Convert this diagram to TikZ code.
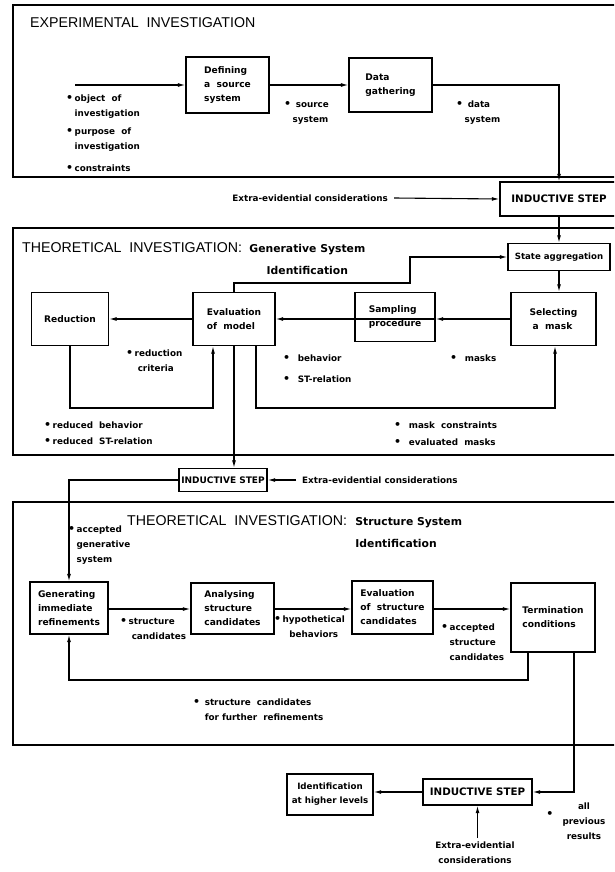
\documentclass[tikz,border=0pt]{standalone}
\usepackage{fontspec}
\setmainfont{Liberation Sans}
\newfontfamily\dvs{DejaVu Sans}
\usetikzlibrary{arrows.meta,calc}

\newcommand\ttlfont{\fontsize{14.2}{17}\selectfont}
\newcommand\subfont{\dvs\fontsize{10.8}{22}\selectfont\bfseries}
\newcommand\bxfont{\dvs\fontsize{9.1}{14}\selectfont\bfseries}
\newcommand\lblfont{\dvs\fontsize{8.8}{15}\selectfont\bfseries}
\newcommand\ind{INDUCTIVE\ STEP}
\newcommand\dotmark{{\fontsize{11}{11}\selectfont\textbullet}}
% bullet followed by a block of lines aligned after the bullet
\newcommand\blt[2][l]{\dotmark\,\begin{tabular}[t]{@{}#1@{}}#2\end{tabular}}
% a block of lines whose first line carries the baseline
\newcommand\lines[2][l]{\begin{tabular}[t]{@{}#1@{}}#2\end{tabular}}

\tikzset{
  frame/.style={draw, line width=1.8pt},
  box/.style={draw, line width=1.1pt, align=left, font=\bxfont, inner sep=2pt},
  indbox/.style={draw, line width=1.1pt, font=\dvs\fontsize{10.3}{12}\selectfont\bfseries, inner sep=2pt},
  lbl/.style={font=\lblfont, align=left, inner sep=0pt, anchor=north west},
  ttl/.style={font=\ttlfont, inner sep=0pt, anchor=base west},
  sub/.style={font=\subfont, inner sep=0pt, anchor=base west},
  flow/.style={line width=1.1pt, -{Latex[length=7.5pt,width=3.8pt]}},
}

\begin{document}
\begin{tikzpicture}[x=1pt,y=-1pt]
\useasboundingbox (0,0) rectangle (614,872);
\begin{scope}
\clip (0,0) rectangle (614,872);

% ---------- section frames ----------
\draw[frame] (13,5) rectangle (640,177);
\draw[frame] (13,228) rectangle (640,455);
\draw[frame] (13,502) rectangle (640,745);

% ---------- experimental investigation ----------
\node[ttl] (t1) at (30,28) {EXPERIMENTAL\ \ INVESTIGATION};

\node[box, minimum width=83pt, minimum height=56pt] (def) at (227.5,85) {Defining\\a\ \ source\\system};
\node[box, minimum width=83pt, minimum height=54pt] (data) at (390.5,85) {Data\\gathering};
\coordinate (in0) at (75,85);
\draw[flow] (in0) -- (def.west);
\draw[flow] (def.east) -- (data.west);

\node[lbl] (l1) at (66,91) {\blt{object\ \ of\\investigation}};
\node[lbl] (l2) at (66,124) {\blt{purpose\ \ of\\investigation}};
\node[lbl] (l3) at (66,161) {\blt{constraints}};
\node[lbl] (l4) at (284,97) {\blt{\ source\\system}};
\node[lbl] (l5) at (456,97) {\blt{\ data\\system}};

% ---------- first inductive step ----------
\node[indbox, minimum width=118pt, minimum height=34pt] (ind1) at (559,199) {\ind};
\draw[flow] (data.east) -| (ind1.north);
\node[font=\lblfont, inner sep=0pt, anchor=east] (ex1) at (388,198) {Extra-evidential\ considerations};
\draw[flow] ($(ex1.east)+(6,0)$) -- (ind1.west);

% ---------- generative system identification ----------
\node[ttl] (t2) at (22,252) {THEORETICAL\ \ INVESTIGATION:};
\node[sub] (t2b) at ($(t2.base east)+(7,0)$) {\lines[c]{Generative System\\Identification}};

\node[box, font=\dvs\fontsize{8.6}{12}\selectfont\bfseries, minimum width=102pt, minimum height=27pt] (stagg) at (559,257) {State aggregation};
\draw[flow] (ind1.south) -- (stagg.north);

\node[box, minimum width=77pt, minimum height=53pt] (red) at (70,319) {Reduction};
\node[box, minimum width=82pt, minimum height=53pt] (evm) at (234,319) {Evaluation\\of\ \ model};
\node[box, minimum width=80pt, minimum height=49pt] (samp) at (395,317) {Sampling\\procedure};
\node[box, minimum width=85pt, minimum height=53pt] (sel) at (553.5,319) {Selecting\\\ a\ \ mask};

\draw[flow] (stagg.south) -- (stagg.south |- sel.north);
\draw[flow] (sel.west) -- (sel.west -| samp.east);
\draw[flow] (samp.east |- evm.east) -- (evm.east);
\draw[flow] (evm.west) -- (red.east);

\coordinate (g1) at (410,283);
\draw[flow] (evm.north) |- (g1) |- (stagg.west);

\coordinate (rl) at (213,408);
\draw[flow] (red.south) |- (rl) -- (rl |- evm.south);
\coordinate (ml) at (256,408);
\coordinate (mr) at (555,408);
\draw[flow] (ml |- evm.south) -- (ml) -- (mr) -- (mr |- sel.south);

\node[lbl] (l6) at (126,346) {\blt{reduction\\\ criteria}};
\node[lbl] (l7) at (283,351) {\blt{\ \ behavior}};
\node[lbl] (l8) at (283,372) {\blt{\ \ ST-relation}};
\node[lbl] (l9) at (450,351) {\blt{\ \ masks}};
\node[lbl] (l10) at (44,418) {\blt{reduced\ \ behavior}};
\node[lbl] (l11) at (44,434) {\blt{reduced\ \ ST-relation}};
\node[lbl] (l12) at (394,418) {\blt{\ \ mask\ \ constraints}};
\node[lbl] (l13) at (394,435) {\blt{\ \ evaluated\ \ masks}};

% ---------- second inductive step ----------
\node[indbox, font=\dvs\fontsize{9}{12}\selectfont\bfseries, minimum width=88pt, minimum height=23pt] (ind2) at (223,480) {\ind};
\draw[flow] (evm.south) -- (evm.south |- ind2.north);
\node[font=\lblfont, inner sep=0pt, anchor=west] (ex2) at (302,480) {Extra-evidential\ considerations};
\draw[flow] ($(ex2.west)+(-6,0)$) -- (ind2.east);

% ---------- structure system identification ----------
\node[ttl] (t3) at (127,525) {THEORETICAL\ \ INVESTIGATION:};
\node[sub] (t3b) at ($(t3.base east)+(8,0)$) {\lines{Structure System\\Identification}};

\node[box, minimum width=78pt, minimum height=52pt] (gen) at (69,608) {Generating\\immediate\\refinements};
\node[box, minimum width=83pt, minimum height=51pt] (ana) at (232.5,608.5) {Analysing\\structure\\candidates};
\node[box, minimum width=81pt, minimum height=53pt] (evs) at (392.5,607.5) {Evaluation\\of\ \ structure\\candidates};
\node[box, minimum width=84pt, minimum height=69pt] (term) at (553,617.5) {Termination\\conditions};

\draw[flow] (ind2.west) -| (gen.north);
\draw[flow] (gen.east |- 0,609) -- (ana.west |- 0,609);
\draw[flow] (ana.east |- 0,609) -- (evs.west |- 0,609);
\draw[flow] (evs.east |- 0,609) -- (term.west |- 0,609);

\coordinate (tl) at (528,680);
\draw[flow] (tl |- term.south) -- (tl) -| (gen.south);

\node[lbl] (l14) at (68,522) {\blt{accepted\\generative\\system}};
\node[lbl] (l15) at (120,614) {\blt{structure\\\ candidates}};
\node[lbl] (l16) at (274,612) {\blt[c]{hypothetical\\behaviors}};
\node[lbl] (l17) at (441,620) {\blt{accepted\\structure\\candidates}};
\node[lbl] (l18) at (193,695) {\blt{\ structure\ \ candidates\\\ for further\ \ refinements}};

% ---------- third inductive step ----------
\node[indbox, minimum width=109pt, minimum height=26pt] (ind3) at (477.5,792) {\ind};
\node[box, align=center, font=\dvs\fontsize{8.7}{14}\selectfont\bfseries, minimum width=86pt, minimum height=41pt] (idb) at (330,794.5) {Identification\\at higher levels};
\draw[flow] (ind3.west) -- (ind3.west -| idb.east);

\coordinate (to) at (574,0);
\draw[flow] (to |- term.south) |- (ind3.east);

\node[font=\lblfont, align=center, inner sep=0pt, anchor=north] (ex3) at (475,842) {Extra-evidential\\considerations};
\draw[flow] ($(ex3.north -| ind3.south)+(0,-4)$) -- (ind3.south);

\node[font=\lblfont, inner sep=0pt] (bl) at (550,814) {\dotmark};
\node[lbl, align=center, anchor=north] (l19) at (584,803) {all\\previous\\results};

\end{scope}
\end{tikzpicture}
\end{document}
